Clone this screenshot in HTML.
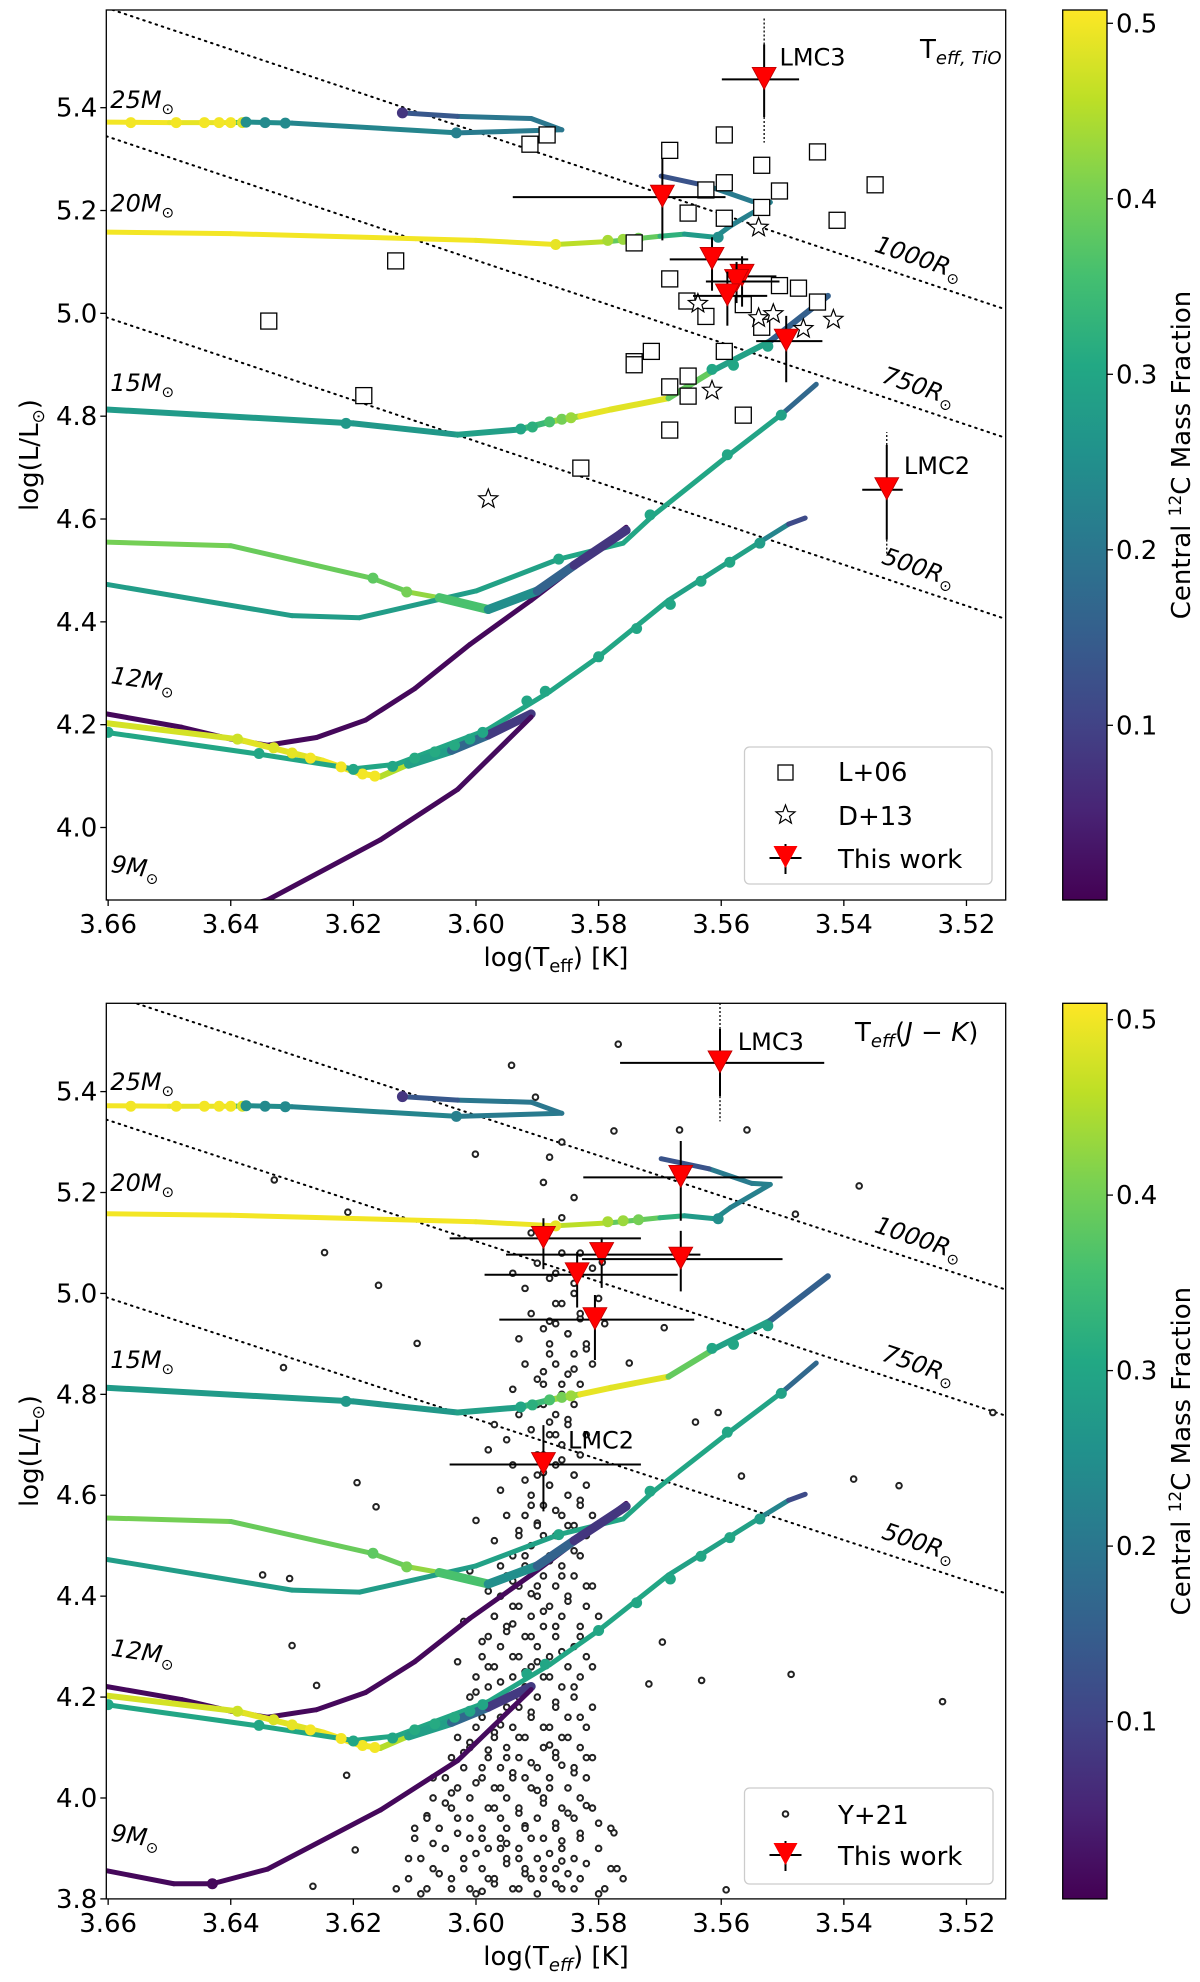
<!DOCTYPE html>
<html><head><meta charset="utf-8"><style>
body{margin:0;background:#fff}
svg text{font-family:"DejaVu Sans","Liberation Sans",sans-serif;fill:#000}
</style></head><body>
<svg id="fig" xmlns="http://www.w3.org/2000/svg" width="1200" height="1977" viewBox="0 0 1200 1977">
<defs>
<linearGradient id="vir" x1="0" y1="1" x2="0" y2="0">
<stop offset="0" stop-color="#440154"/><stop offset="0.1" stop-color="#482475"/><stop offset="0.2" stop-color="#414487"/><stop offset="0.3" stop-color="#355f8d"/><stop offset="0.4" stop-color="#2a788e"/><stop offset="0.5" stop-color="#21918c"/><stop offset="0.6" stop-color="#22a884"/><stop offset="0.7" stop-color="#44bf70"/><stop offset="0.8" stop-color="#7ad151"/><stop offset="0.9" stop-color="#bddf26"/><stop offset="1" stop-color="#fde725"/>
</linearGradient>
<clipPath id="clipTop"><rect x="106.3" y="10" width="899.4" height="890"/></clipPath>
<clipPath id="clipBot"><rect x="106.3" y="1003.3" width="899.4" height="895.6"/></clipPath>
</defs>
</svg>
<script>
// ---------- data ----------
const cbTicks=[0.1,0.2,0.3,0.4,0.5];
const xTicks=[3.66,3.64,3.62,3.60,3.58,3.56,3.54,3.52];
const yTicksTop=[4.0,4.2,4.4,4.6,4.8,5.0,5.2,5.4];
const yTicksBot=[3.8,4.0,4.2,4.4,4.6,4.8,5.0,5.2,5.4];
const radii=[1000,750,500];
const radiusLabels=["1000R","750R","500R"];
// evolutionary tracks: logT, logL, central 12C fraction
const t25T=[3.6603,3.650,3.640,3.637,3.630,3.603,3.586,3.591,3.603,3.612];
const t25L=[5.372,5.371,5.371,5.372,5.370,5.351,5.357,5.379,5.383,5.390];
const t25C=[0.50,0.50,0.48,0.25,0.24,0.22,0.20,0.20,0.20,0.08];
const t20T=[3.6603,3.64,3.60,3.587,3.578,3.570,3.566,3.561,3.5585,3.552,3.555,3.562,3.5698];
const t20L=[5.158,5.155,5.142,5.134,5.140,5.150,5.154,5.148,5.170,5.216,5.218,5.247,5.267];
const t20C=[0.5,0.5,0.5,0.49,0.42,0.35,0.30,0.25,0.22,0.22,0.22,0.20,0.06];
const t15T=[3.6603,3.62,3.603,3.593,3.588,3.583,3.578,3.5686,3.561,3.552,3.5426];
const t15L=[4.813,4.786,4.764,4.774,4.789,4.80,4.813,4.835,4.891,4.946,5.034];
const t15C=[0.28,0.27,0.27,0.30,0.38,0.48,0.50,0.47,0.30,0.28,0.03];
const t12aT=[3.6603,3.64,3.617,3.611,3.606,3.598];
const t12aL=[4.555,4.548,4.485,4.458,4.447,4.424];
const t12aC=[0.40,0.40,0.38,0.40,0.45,0.35];
const t12bT=[3.606,3.598,3.59,3.584,3.5755];
const t12bL=[4.447,4.424,4.46,4.51,4.578];
const t12bC=[0.42,0.30,0.20,0.12,0.04];
const t12cT=[3.6603,3.630,3.619,3.600,3.5865,3.576,3.571,3.5587,3.550,3.5445];
const t12cL=[4.473,4.412,4.408,4.46,4.522,4.553,4.608,4.725,4.805,4.862];
const t12cC=[0.28,0.28,0.28,0.28,0.30,0.30,0.30,0.30,0.29,0.05];
const t12dT=[3.6603,3.648,3.640,3.634,3.626,3.618,3.610,3.601,3.591,3.5755];
const t12dL=[4.221,4.195,4.172,4.160,4.175,4.209,4.27,4.356,4.442,4.584];
const t12dC=[0.01,0.01,0.01,0.01,0.01,0.01,0.01,0.01,0.01,0.02];
const t9aT=[3.6603,3.639,3.625,3.619,3.6156,3.611];
const t9aL=[4.203,4.172,4.13,4.105,4.099,4.123];
const t9aC=[0.48,0.47,0.5,0.5,0.5,0.40];
const t9bT=[3.611,3.604,3.598,3.591];
const t9bL=[4.123,4.15,4.18,4.221];
const t9bC=[0.35,0.22,0.12,0.05];
const t9cT=[3.6603,3.635,3.620,3.613,3.598,3.588,3.580,3.5686,3.554,3.549,3.5463];
const t9cL=[4.185,4.142,4.114,4.123,4.191,4.264,4.332,4.442,4.553,4.59,4.602];
const t9cC=[0.30,0.30,0.30,0.30,0.30,0.30,0.30,0.30,0.28,0.18,0.05];
const t9dT=[3.6603,3.6493,3.643,3.634,3.6156,3.603,3.591];
const t9dL=[3.856,3.830,3.830,3.859,3.976,4.074,4.215];
const t9dC=[0.01,0.01,0.01,0.01,0.01,0.01,0.02];
// dots on tracks
const dotT=[3.6563,3.6489,3.6443,3.6419,3.6400,3.6381,3.6375,3.6344,3.6311,3.6032,3.612,
 3.587,3.5785,3.576,3.5735,3.5605,
 3.6212,3.5927,3.5908,3.588,3.586,3.5845,3.5615,3.558,3.5524,
 3.6168,3.6113,
 3.5865,3.5716,3.559,3.5502,
 3.6389,3.633,3.630,3.627,3.622,3.6185,3.6165,
 3.660,3.6354,3.620,3.6136,3.610,3.6067,3.6035,3.601,3.5989,3.5917,3.5887,3.580,3.5738,3.5683,3.5633,3.5586,3.5537,
 3.643];
const dotL=[5.371,5.371,5.371,5.371,5.371,5.371,5.372,5.371,5.370,5.351,5.390,
 5.134,5.142,5.144,5.146,5.148,
 4.786,4.775,4.779,4.789,4.794,4.797,4.891,4.899,4.936,
 4.485,4.458,
 4.522,4.608,4.725,4.802,
 4.172,4.155,4.145,4.135,4.118,4.104,4.100,
 4.185,4.144,4.113,4.119,4.135,4.147,4.160,4.172,4.185,4.246,4.265,4.332,4.387,4.434,4.479,4.516,4.553,
 3.830];
const dotC=[0.5,0.5,0.5,0.5,0.5,0.48,0.25,0.24,0.24,0.22,0.08,
 0.49,0.44,0.43,0.40,0.25,
 0.27,0.30,0.32,0.36,0.40,0.43,0.30,0.30,0.29,
 0.38,0.40,
 0.30,0.30,0.30,0.29,
 0.47,0.48,0.49,0.5,0.5,0.5,0.5,
 0.30,0.30,0.30,0.30,0.31,0.31,0.31,0.30,0.30,0.30,0.30,0.30,0.30,0.30,0.30,0.30,0.28,
 0.01];
// L+06 squares
const sqT=[3.5912,3.5884,3.5684,3.5595,3.5443,3.5534,3.5595,3.5625,3.5505,3.5349,3.5534,3.5654,3.5595,3.5411,3.5742,3.6131,3.5684,3.5656,3.5564,3.5505,3.5474,3.5443,3.5625,3.6338,3.5534,3.5595,3.5714,3.5742,3.5742,3.5654,3.5684,3.5654,3.6183,3.5564,3.5684,3.5829];
const sqL=[5.329,5.347,5.317,5.347,5.314,5.288,5.254,5.240,5.238,5.250,5.206,5.195,5.185,5.181,5.137,5.102,5.067,5.024,5.017,5.054,5.049,5.022,4.994,4.985,4.973,4.926,4.926,4.906,4.900,4.878,4.857,4.839,4.840,4.802,4.773,4.699];
// D+13 stars
const stT=[3.5539,3.5638,3.5539,3.5515,3.5466,3.5417,3.5615,3.5980];
const stL=[5.167,5.019,4.991,4.999,4.970,4.988,4.850,4.639];
// This work (TiO)
const twTopT=[3.553,3.5696,3.5615,3.5566,3.5575,3.559,3.5494,3.533];
const twTopL=[5.455,5.226,5.105,5.072,5.062,5.034,4.946,4.657];
const twTopTa=[3.5599,3.5940,3.5684,3.559,3.5625,3.5646,3.5543,3.537];
const twTopTb=[3.5473,3.5593,3.5556,3.551,3.5505,3.5525,3.5435,3.5304];
const twTopLa=[5.523,5.302,5.148,5.111,5.10,5.081,4.995,4.744];
const twTopLb=[5.382,5.142,5.044,5.013,5.02,4.976,4.866,4.560];
// This work (J-K)
const twBotT=[3.5602,3.5666,3.589,3.5795,3.5666,3.5835,3.5806,3.589];
const twBotL=[5.457,5.230,5.109,5.077,5.068,5.037,4.948,4.661];
const twBotTa=[3.5765,3.5825,3.6043,3.5951,3.5827,3.5986,3.5962,3.6043];
const twBotTb=[3.5432,3.5500,3.5731,3.5634,3.5500,3.5671,3.5644,3.5731];
const twBotLa=[5.524,5.302,5.149,5.111,5.124,5.082,4.997,4.739];
const twBotLb=[5.391,5.144,5.048,5.011,5.004,4.972,4.868,4.568];
// Y+21 RSG sample
const yT=[3.609,3.604,3.600,3.597,3.594,3.590,3.587,3.584,3.580,3.606,3.602,3.598,3.595,3.592,3.589,3.585,3.582,3.600,3.596,3.593,3.588,3.611,3.578,3.591,3.613,3.576,3.599,3.586,
3.607,3.603,3.599,3.595,3.591,3.587,3.583,3.601,3.597,3.593,3.589,3.585,3.605,3.595,3.580,3.610,3.608,3.592,3.586,3.582,
3.604,3.600,3.596,3.592,3.588,3.584,3.599,3.595,3.591,3.587,3.602,3.582,3.594,3.607,3.598,3.590,3.586,
3.601,3.597,3.593,3.589,3.585,3.599,3.595,3.591,3.587,3.583,3.604,3.593,3.596,3.588,
3.600,3.596,3.592,3.588,3.584,3.598,3.594,3.590,3.586,3.603,3.581,3.592,
3.599,3.595,3.591,3.587,3.583,3.597,3.593,3.589,3.585,3.602,3.580,3.594,
3.598,3.594,3.590,3.586,3.582,3.596,3.592,3.588,3.584,3.601,3.591,
3.597,3.593,3.589,3.585,3.595,3.591,3.587,3.583,3.600,3.590,
3.596,3.592,3.588,3.584,3.594,3.590,3.586,3.598,3.589,
3.595,3.591,3.587,3.593,3.589,3.585,3.597,3.588,
3.594,3.590,3.586,3.592,3.588,3.584,3.582,3.589,
3.593,3.589,3.585,3.591,3.587,3.583,3.580,3.588,
3.592,3.588,3.584,3.590,3.586,3.581,3.594,
3.591,3.586,3.584,3.589,3.588,3.586,
3.5768,3.5942,3.5903,3.5775,3.5668,3.5558,3.5375,3.6329,3.6001,3.6209,3.6247,3.6159,3.6096,3.6314,3.575,3.5605,3.5567,3.5384,3.531,3.5157,3.6194,3.6163,3.6348,3.6304,3.630,3.626,3.5632,3.5239,3.6211,3.6197,3.6266,3.5592,3.5775,3.5486,3.5718,3.5696,3.5642,3.5479,3.5794,3.5693];
const yL=[3.81,3.82,3.81,3.83,3.82,3.81,3.83,3.82,3.81,3.85,3.86,3.84,3.87,3.85,3.86,3.85,3.87,3.89,3.90,3.88,3.89,3.88,3.86,3.84,3.82,3.84,3.815,3.875,
3.91,3.93,3.92,3.94,3.92,3.95,3.93,3.96,3.98,3.97,3.99,3.97,3.99,3.91,3.95,3.94,3.965,3.945,3.915,3.985,
4.01,4.03,4.02,4.04,4.02,4.05,4.06,4.08,4.07,4.09,4.09,4.08,4.05,4.04,4.095,4.015,4.065,
4.11,4.13,4.12,4.14,4.12,4.16,4.18,4.17,4.19,4.16,4.15,4.20,4.145,4.105,
4.21,4.23,4.22,4.24,4.22,4.26,4.28,4.27,4.29,4.27,4.26,4.25,
4.31,4.33,4.32,4.34,4.32,4.36,4.38,4.37,4.39,4.35,4.36,4.345,
4.41,4.43,4.42,4.44,4.42,4.46,4.48,4.47,4.49,4.45,4.405,
4.51,4.53,4.52,4.54,4.56,4.58,4.57,4.59,4.55,4.545,
4.61,4.63,4.62,4.64,4.66,4.68,4.67,4.69,4.645,
4.71,4.73,4.72,4.76,4.78,4.75,4.74,4.745,
4.81,4.83,4.82,4.86,4.88,4.85,4.89,4.845,
4.91,4.93,4.92,4.96,4.98,4.95,4.99,4.945,
5.01,5.03,5.02,5.06,5.08,5.05,5.04,
5.12,5.15,5.19,5.22,5.27,5.30,
5.494,5.452,5.389,5.322,5.324,5.324,5.213,5.225,5.276,5.161,5.081,5.016,4.901,4.853,4.862,4.764,4.638,4.632,4.619,4.764,4.625,4.577,4.442,4.435,4.302,4.223,4.233,4.191,4.045,3.897,3.825,3.818,3.931,4.245,4.226,4.309,4.745,5.157,5.062,4.932];
// additional Y+21 stars, grouped by luminosity row
const yRowL=[3.82,3.84,3.86,3.88,3.90,3.92,3.94,3.96,3.98,4.00,4.02,4.04,4.06,4.08,4.10,4.12,4.14,4.16,4.18,4.20,4.22,4.24,4.26,4.28,4.30,4.32,4.34,4.36,4.38,4.40,4.42,4.44,4.46,4.48,4.50,4.52,4.54,4.56,4.58,4.60,4.62,4.64,4.66,4.68,4.70,4.72,4.74,4.76,4.78,4.80,4.82,4.84,4.86,4.88,4.90,4.92,4.94,4.96,4.98,5.00,5.04,5.08];
const yRowT=[[3.608,3.601,3.593,3.586,3.579],[3.611,3.604,3.597,3.589,3.583],[3.607,3.599,3.592,3.587,3.577],[3.609,3.602,3.595,3.590,3.584],[3.605,3.598,3.593,3.586,3.580],[3.610,3.601,3.596,3.589,3.583],[3.606,3.599,3.592,3.587,3.578],[3.608,3.603,3.596,3.590,3.584],[3.604,3.598,3.593,3.586,3.581],[3.607,3.601,3.595,3.589,3.583],
[3.603,3.597,3.591,3.585],[3.605,3.599,3.594,3.588,3.582],[3.602,3.596,3.590,3.584],[3.604,3.598,3.593,3.587,3.581],[3.601,3.595,3.589,3.583],[3.603,3.597,3.592,3.586],[3.600,3.594,3.588,3.582],[3.602,3.596,3.591,3.585],[3.599,3.593,3.587,3.581],[3.601,3.595,3.590,3.584],
[3.598,3.592,3.586],[3.600,3.594,3.589,3.583],[3.597,3.591,3.585],[3.599,3.593,3.588,3.582],[3.596,3.590,3.584],[3.598,3.592,3.587],[3.595,3.589,3.583],[3.597,3.591,3.586],[3.594,3.588,3.582],[3.596,3.590,3.585],
[3.593,3.587,3.581],[3.595,3.589,3.584],[3.592,3.586],[3.594,3.588,3.583],[3.591,3.585],[3.593,3.587,3.582],[3.590,3.584],[3.592,3.586,3.581],[3.589,3.583],[3.591,3.585],
[3.588,3.582],[3.590,3.584],[3.587],[3.589,3.583],[3.586],[3.588,3.582],[3.585],[3.587],[3.590,3.584],[3.586],
[3.589,3.583],[3.585],[3.587,3.581],[3.584],[3.588,3.582],[3.585],[3.587,3.579],[3.583],[3.586],[3.584],[3.587],[3.583]];

// ---------- helpers ----------
const NS="http://www.w3.org/2000/svg";
const svg=document.getElementById('fig');
const VMIN=0.0, VMAX=0.5076;
const vstops=["#440154","#482475","#414487","#355f8d","#2a788e","#21918c","#22a884","#44bf70","#7ad151","#bddf26","#fde725"];
function hex(h){return [1,3,5].map(i=>parseInt(h.substr(i,2),16));}
function viridis(v){let t=Math.max(0,Math.min(1,(v-VMIN)/(VMAX-VMIN)))*10;let i=Math.min(9,Math.floor(t));let f=t-i;const a=hex(vstops[i]),b=hex(vstops[i+1]);return 'rgb('+a.map((x,k)=>Math.round(x+(b[k]-x)*f)).join(',')+')';}
function el(tag,attrs,parent){const e=document.createElementNS(NS,tag);for(const k in attrs)e.setAttribute(k,attrs[k]);(parent||svg).appendChild(e);return e;}

const panels=[
 {name:'top',px0:106.3,px1:1005.7,py0:10,py1:900,t0:3.6603,t1:3.5136,l0:3.859,l1:5.590,clip:'clipTop',yTicks:yTicksTop,cbTop:10,cbBot:900,cb05:23.3},
 {name:'bottom',px0:106.3,px1:1005.7,py0:1003.3,py1:1898.9,t0:3.6603,t1:3.5136,l0:3.80,l1:5.575,clip:'clipBot',yTicks:yTicksBot,cbTop:1003.3,cbBot:1898.9,cb05:1019.6}
];

function drawTrack(g,p,T,L,C,w){
 const sx=t=>p.px0+(t-p.t0)/(p.t1-p.t0)*(p.px1-p.px0);
 const sy=l=>p.py1-(l-p.l0)/(p.l1-p.l0)*(p.py1-p.py0);
 for(let i=0;i<T.length-1;i++){
  const ln=el('line',{x1:sx(T[i]),y1:sy(L[i]),x2:sx(T[i+1]),y2:sy(L[i+1]),stroke:viridis((C[i]+C[i+1])/2),'stroke-width':w,'stroke-linecap':'round'},g);
  
  
 }
}
function yStar(g,x,y){
 const c=el('circle',{cx:x,cy:y,r:2.8,fill:'#fff',stroke:'#222','stroke-width':2},g);
 
 
}

function drawPanel(p,idx){
 const sx=t=>p.px0+(t-p.t0)/(p.t1-p.t0)*(p.px1-p.px0);
 const sy=l=>p.py1-(l-p.l0)/(p.l1-p.l0)*(p.py1-p.py0);
 const G=el('g',{});
 
 
 const g=el('g',{'clip-path':'url(#'+p.clip+')'},G);
 
 
 radii.forEach((R,i)=>{
  const f=t=>2*Math.log10(R)+4*(t-3.7617);
  const ln=el('line',{x1:sx(p.t0),y1:sy(f(p.t0)),x2:sx(p.t1),y2:sy(f(p.t1)),stroke:'#000','stroke-width':2,'stroke-dasharray':'1.5 5','stroke-linecap':'round'},g);
  
  
  const tl=3.5282, x=sx(tl), y=sy(f(tl))-14;
  const tx=el('text',{x:x,y:y,'font-size':24,'font-style':'italic','text-anchor':'middle',transform:'rotate(18.5 '+x+' '+y+')'},G);
  
  
  tx.innerHTML=radiusLabels[i]+'<tspan font-size="15" dy="6">⊙</tspan>';
 });
 if(idx===1){
  yT.forEach((t,i)=>yStar(g,sx(t),sy(yL[i])));
  yRowL.forEach((l,i)=>yRowT[i].forEach(t=>yStar(g,sx(t),sy(l))));
 }
 drawTrack(g,p,t25T,t25L,t25C,5);
 drawTrack(g,p,t20T,t20L,t20C,5);
 drawTrack(g,p,t15T,t15L,t15C,6);
 drawTrack(g,p,t12aT,t12aL,t12aC,5);
 drawTrack(g,p,t12cT,t12cL,t12cC,5);
 drawTrack(g,p,t12dT,t12dL,t12dC,5);
 drawTrack(g,p,t12bT,t12bL,t12bC,9);
 drawTrack(g,p,t9aT,t9aL,t9aC,6);
 drawTrack(g,p,t9cT,t9cL,t9cC,5);
 drawTrack(g,p,t9bT,t9bL,t9bC,9);
 drawTrack(g,p,t9dT,t9dL,t9dC,5);
 dotT.forEach((t,i)=>{const c=el('circle',{cx:sx(t),cy:sy(dotL[i]),r:5.5,fill:viridis(dotC[i])},g);
  
  });
 if(idx===0){
  sqT.forEach((t,i)=>{const r=el('rect',{x:sx(t)-8,y:sy(sqL[i])-8,width:16,height:16,fill:'#fff',stroke:'#000','stroke-width':1.3},g);
   
   });
  stT.forEach((t,i)=>{const s=el('path',{d:starPath(sx(t),sy(stL[i]),10),fill:'#fff',stroke:'#000','stroke-width':1.2},g);
   
   });
 }
 const TT=idx?twBotT:twTopT, LL=idx?twBotL:twTopL, Ta=idx?twBotTa:twTopTa, Tb=idx?twBotTb:twTopTb, La=idx?twBotLa:twTopLa, Lb=idx?twBotLb:twTopLb;
 TT.forEach((t,i)=>{
  const x=sx(t),y=sy(LL[i]);
  const gg=el('g',{},g);
  
  
  el('line',{x1:sx(Ta[i]),y1:y,x2:sx(Tb[i]),y2:y,stroke:'#000','stroke-width':2},gg);
  el('line',{x1:x,y1:sy(La[i]),x2:x,y2:sy(Lb[i]),stroke:'#000','stroke-width':2},gg);
  if(i===0){el('line',{x1:x,y1:sy(La[i]),x2:x,y2:sy(5.575),stroke:'#000','stroke-width':1.3,'stroke-dasharray':'2 2'},gg);
   el('line',{x1:x,y1:sy(Lb[i]),x2:x,y2:sy(Lb[i]-0.05),stroke:'#000','stroke-width':1.3,'stroke-dasharray':'2 2'},gg);}
  if(i===7&&idx===0){el('line',{x1:x,y1:sy(La[i]),x2:x,y2:sy(La[i]+0.025),stroke:'#000','stroke-width':1.3,'stroke-dasharray':'2 2'},gg);
   el('line',{x1:x,y1:sy(Lb[i]),x2:x,y2:sy(Lb[i]-0.03),stroke:'#000','stroke-width':1.3,'stroke-dasharray':'2 2'},gg);}
  el('path',{d:`M${x-12},${y-12} L${x+12},${y-12} L${x},${y+10} Z`,fill:'#ff0000',stroke:'#b00','stroke-width':0.8},gg);
 });
 const lm=idx?[[3.5573,5.50,'LMC3'],[3.585,4.71,'LMC2']]:[[3.5505,5.50,'LMC3'],[3.5302,4.705,'LMC2']];
 lm.forEach(a=>{const tx=el('text',{x:sx(a[0]),y:sy(a[1])+9,'font-size':24},G);tx.textContent=a[2];
  
  });
 const ml=idx?[[5.423,'25',0],[5.223,'20',0],[4.872,'15',0],[4.302,'12',8],[3.935,'9',8]]:[[5.419,'25',0],[5.218,'20',0],[4.868,'15',0],[4.30,'12',8],[3.933,'9',8]];
 ml.forEach(m=>{const x=p.px0+4,y=sy(m[0])+10;const tx=el('text',{x:x,y:y,'font-size':24,'font-style':'italic',transform:'rotate('+m[2]+' '+x+' '+y+')'},G);
  tx.innerHTML=m[1]+'M<tspan font-size="15" dy="6">⊙</tspan>';
  
  });
 const fr=el('rect',{x:p.px0,y:p.py0,width:p.px1-p.px0,height:p.py1-p.py0,fill:'none',stroke:'#000','stroke-width':1.3},G);
 
 
 xTicks.forEach(t=>{const x=sx(t);if(x<p.px0-1||x>p.px1+1)return;
  el('line',{x1:x,y1:p.py1,x2:x,y2:p.py1+6,stroke:'#000','stroke-width':1.3},G);
  const tx=el('text',{x:x,y:p.py1+33,'font-size':26,'text-anchor':'middle'},G);tx.textContent=t.toFixed(2);
  
  });
 p.yTicks.forEach(l=>{const y=sy(l);
  el('line',{x1:p.px0-6,y1:y,x2:p.px0,y2:y,stroke:'#000','stroke-width':1.3},G);
  const tx=el('text',{x:p.px0-9,y:y+9,'font-size':26,'text-anchor':'end'},G);tx.textContent=l.toFixed(1);
  
  });
 const xt=el('text',{x:(p.px0+p.px1)/2,y:p.py1+66,'font-size':26,'text-anchor':'middle'},G);
 xt.innerHTML=idx?'log(T<tspan font-size="18" dy="6" font-style="italic">eff</tspan><tspan dy="-6">) [K]</tspan>':'log(T<tspan font-size="18" dy="6">eff</tspan><tspan dy="-6">) [K]</tspan>';
 
 
 const cy=(p.py0+p.py1)/2;
 const yt=el('text',{x:38,y:cy,'font-size':26,'text-anchor':'middle',transform:'rotate(-90 38 '+cy+')'},G);
 yt.innerHTML='log(L/L<tspan font-size="17" dy="6">⊙</tspan><tspan dy="-6">)</tspan>';
 
 
 const pt=el('text',{x:idx?855:920,y:idx?1041:58,'font-size':26},G);
 pt.innerHTML=idx?'T<tspan font-size="18" dy="6" font-style="italic">eff</tspan><tspan dy="-6">(</tspan><tspan font-style="italic">J</tspan> − <tspan font-style="italic">K</tspan>)':'T<tspan font-size="18" dy="6" font-style="italic">eff, TiO</tspan>';
 
 
 const lg=el('g',{},G);
 
 
 if(idx===0){
  el('rect',{x:744.5,y:747,width:247.5,height:137,rx:5,fill:'#fff',stroke:'#ccc','stroke-width':1.3},lg);
  el('rect',{x:778,y:765,width:15,height:15,fill:'#fff',stroke:'#000','stroke-width':1.3},lg);
  el('path',{d:starPath(785.5,815,10),fill:'#fff',stroke:'#000','stroke-width':1.2},lg);
  legendTri(lg,785.5,858);
  [['L+06',781],['D+13',825],['This work',868]].forEach(a=>{const tx=el('text',{x:838,y:a[1],'font-size':26},lg);tx.textContent=a[0];
   
   });
 } else {
  el('rect',{x:744.5,y:1788,width:248.5,height:96,rx:5,fill:'#fff',stroke:'#ccc','stroke-width':1.3},lg);
  el('circle',{cx:785.5,cy:1814,r:2.8,fill:'#fff',stroke:'#222','stroke-width':2},lg);
  legendTri(lg,785.5,1855);
  [['Y+21',1824],['This work',1865]].forEach(a=>{const tx=el('text',{x:838,y:a[1],'font-size':26},lg);tx.textContent=a[0];
   
   });
 }
 const cb=el('g',{},G);
 
 
 el('rect',{x:1062.7,y:p.cbTop,width:44.3,height:p.cbBot-p.cbTop,fill:'url(#vir)',stroke:'#000','stroke-width':1.3},cb);
 const per=175.5*10;
 cbTicks.forEach(v=>{const y=p.cb05+(0.5-v)*per;
  el('line',{x1:1107,y1:y,x2:1113,y2:y,stroke:'#000','stroke-width':1.3},cb);
  const tx=el('text',{x:1116,y:y+9,'font-size':26},cb);tx.textContent=v.toFixed(1);
  
  });
 const ccy=(p.cbTop+p.cbBot)/2;
 const ct=el('text',{x:1190,y:ccy,'font-size':26,'text-anchor':'middle',transform:'rotate(-90 1190 '+ccy+')'},cb);
 ct.innerHTML='Central <tspan font-size="17" dy="-9">12</tspan><tspan dy="9">C Mass Fraction</tspan>';
 
 
}
function legendTri(g,x,y){
 el('line',{x1:x-16,y1:y,x2:x+16,y2:y,stroke:'#000','stroke-width':2},g);
 el('line',{x1:x,y1:y-14,x2:x,y2:y+16,stroke:'#000','stroke-width':2},g);
 el('path',{d:`M${x-12},${y-12} L${x+12},${y-12} L${x},${y+10} Z`,fill:'#ff0000'},g);
}
function starPath(cx,cy,R){let d='';for(let i=0;i<10;i++){const r=i%2?R*0.42:R;const a=-Math.PI/2+i*Math.PI/5;d+=(i?'L':'M')+(cx+r*Math.cos(a)).toFixed(1)+','+(cy+r*Math.sin(a)).toFixed(1);}return d+'Z';}
panels.forEach((p,i)=>drawPanel(p,i));
</script>
</body></html>
